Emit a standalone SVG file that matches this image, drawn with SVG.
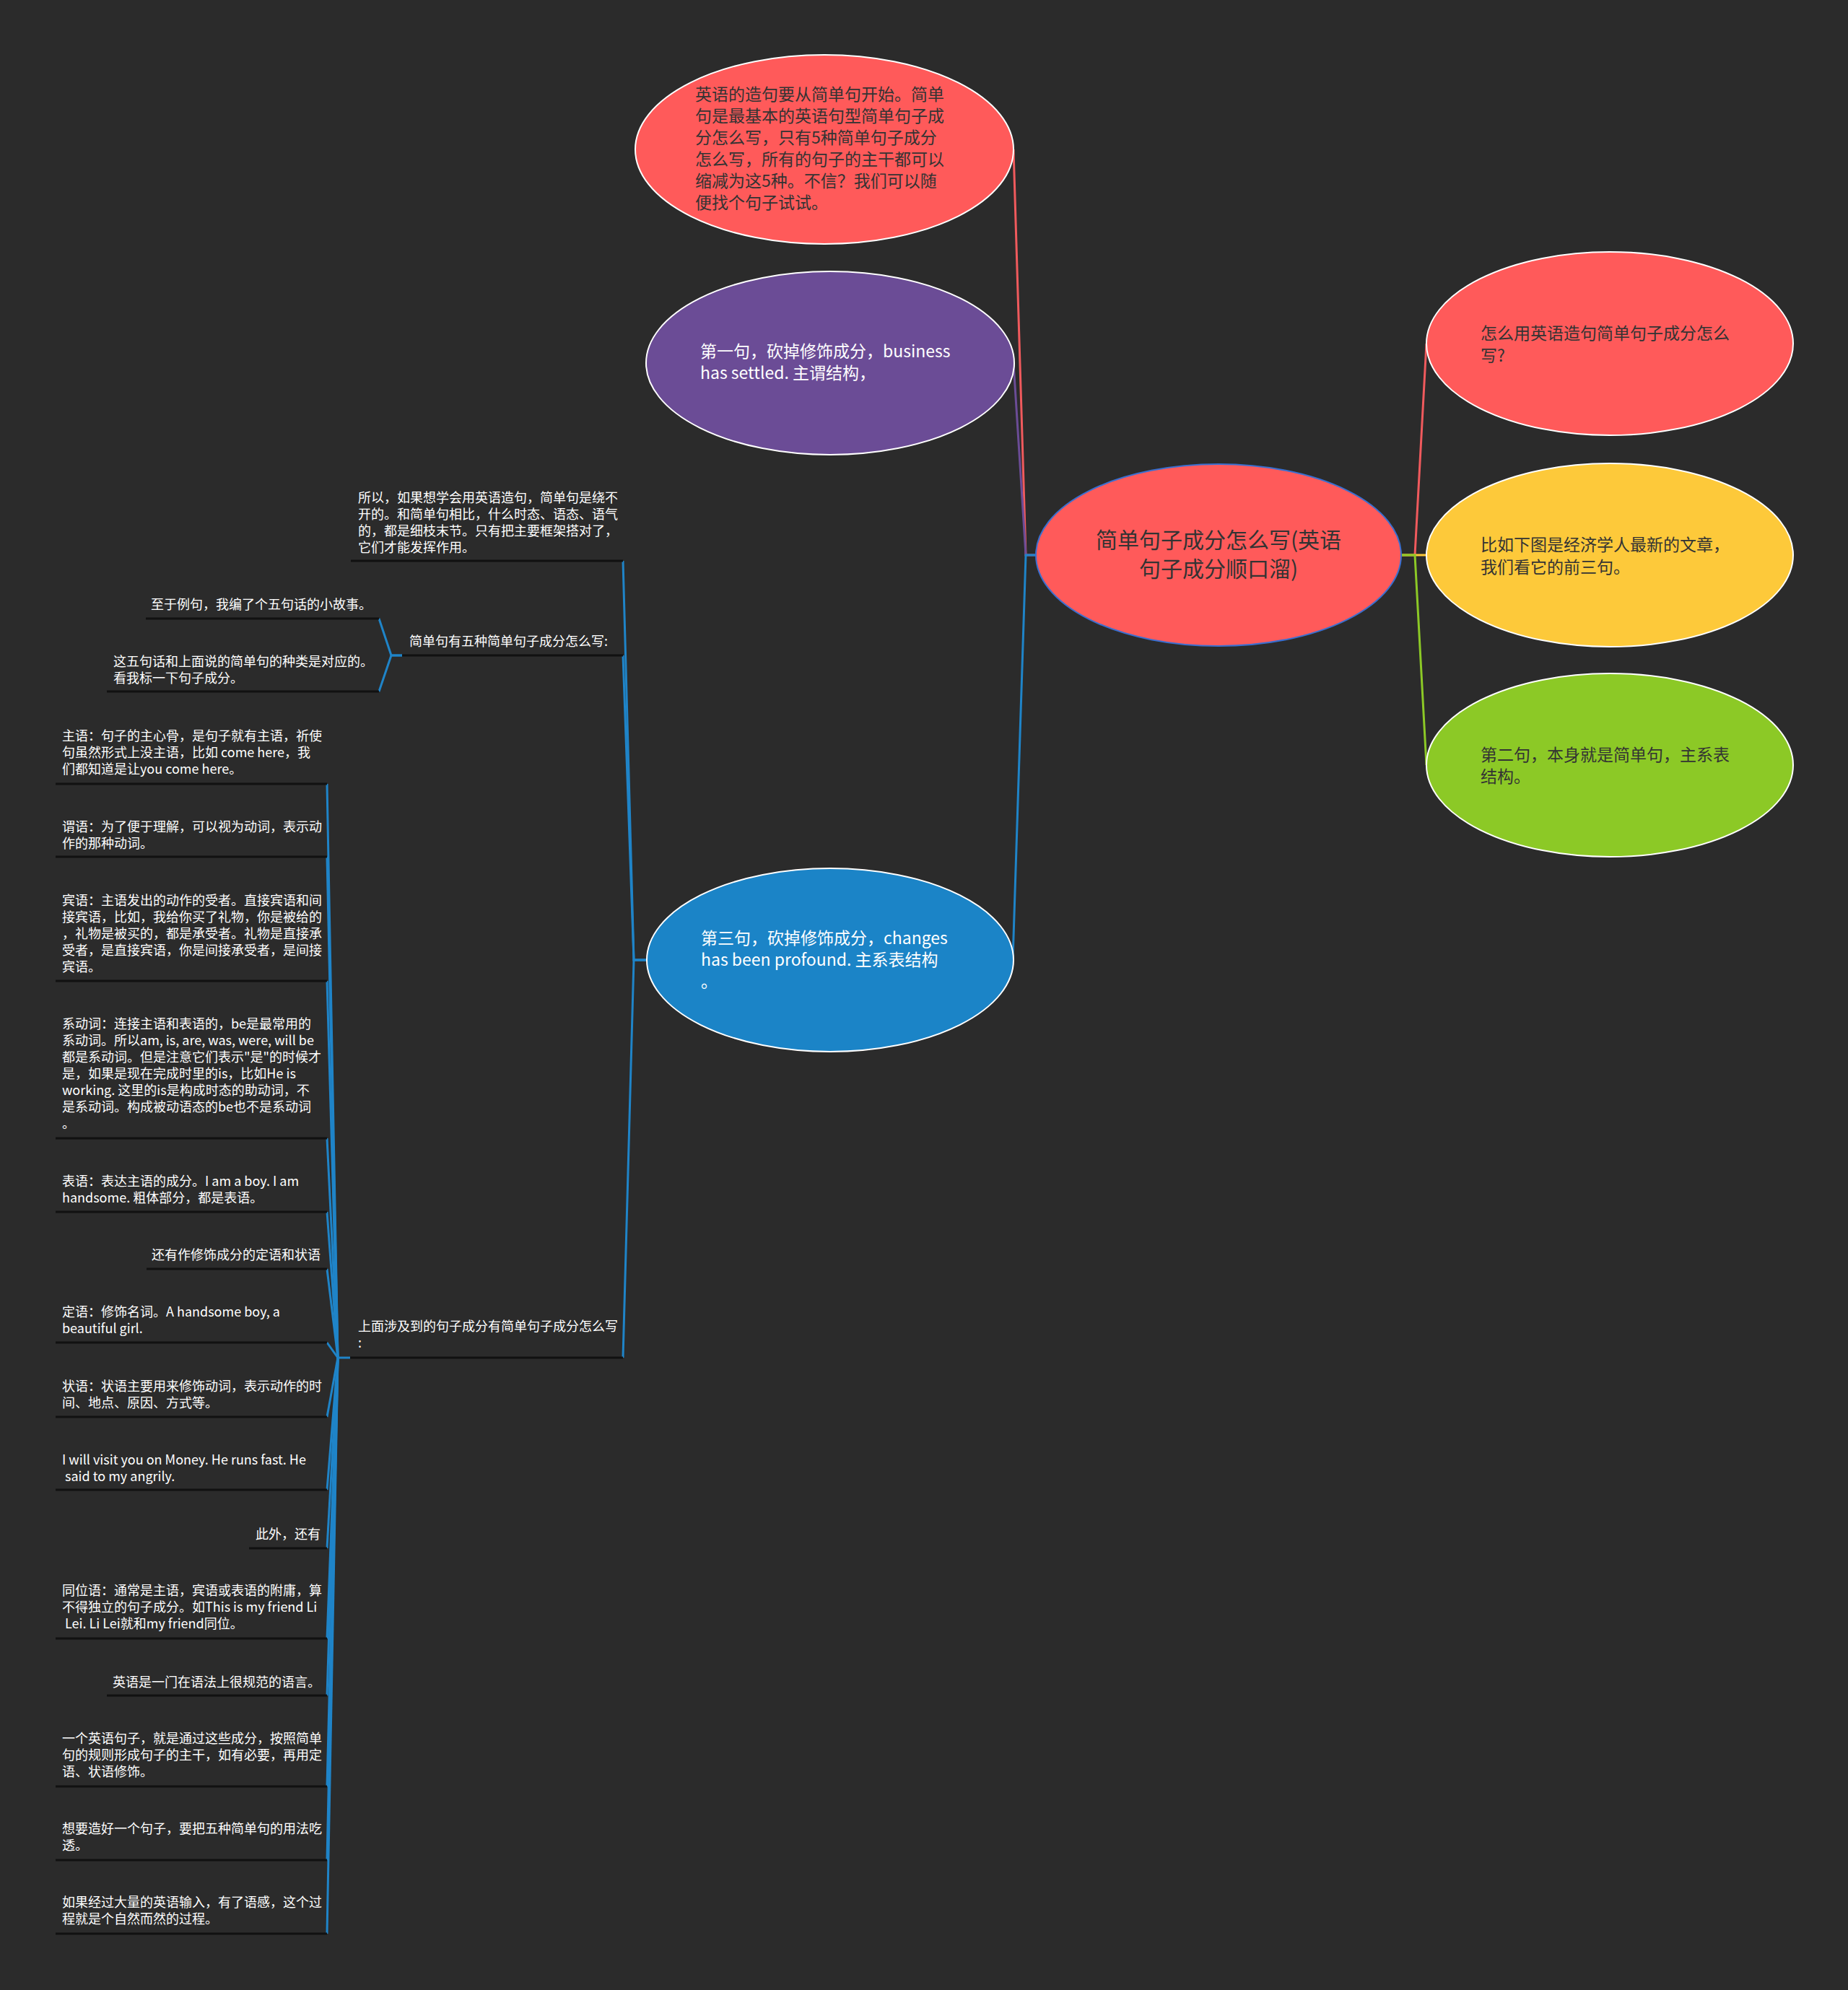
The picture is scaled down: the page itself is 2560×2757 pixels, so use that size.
<svg xmlns="http://www.w3.org/2000/svg" width="2560" height="2757" viewBox="0 0 2560 2757">
<style>
.bg{fill:#2b2b2b}
.t{font-family:"Noto Sans CJK SC","Microsoft YaHei",sans-serif}
.dk{fill:#333333}
.wt{fill:#ffffff}
.s18{font-size:18px}
.s23{font-size:23px}
.s30{font-size:30px}
.ul{stroke:#111111;stroke-width:3;fill:none}
.cb{stroke:#1f84c8;stroke-width:3;fill:none}
.node{stroke:#ffffff;stroke-width:2}
</style>
<rect class="bg" x="0" y="0" width="2560" height="2757"/>

<g id="connectors">
  <path d="M1435,769 L1421,769 L1404,207" stroke="#f05a5d" stroke-width="3" fill="none"/>
  <path d="M1435,769 L1421,769 L1404,503" stroke="#6b4c96" stroke-width="3" fill="none"/>
  <path d="M1435,769 L1421,769 L1403,1330" class="cb"/>
  <path d="M1941,769 L1960,769 L1976,476" stroke="#f05a5d" stroke-width="3" fill="none"/>
  <path d="M1941,769 L1975,769" stroke="#fdc93a" stroke-width="3" fill="none"/>
  <path d="M1941,769 L1960,769 L1976,1060" stroke="#8cc926" stroke-width="3" fill="none"/>
  <path d="M896,1330 L878,1330 L863,777" class="cb"/>
  <path d="M896,1330 L878,1330 L863,908" class="cb"/>
  <path d="M896,1330 L878,1330 L863,1881" class="cb"/>
  <path d="M557,908 L542,908 L525,857" class="cb"/>
  <path d="M557,908 L542,908 L525,958" class="cb"/>
  <path d="M485,1881 L468,1881 L453,1086" class="cb"/>
  <path d="M468,1881 L453,1187" class="cb"/>
  <path d="M468,1881 L453,1359" class="cb"/>
  <path d="M468,1881 L453,1577" class="cb"/>
  <path d="M468,1881 L453,1679" class="cb"/>
  <path d="M468,1881 L453,1758" class="cb"/>
  <path d="M468,1881 L453,1860" class="cb"/>
  <path d="M468,1881 L453,1963" class="cb"/>
  <path d="M468,1881 L453,2064" class="cb"/>
  <path d="M468,1881 L453,2145" class="cb"/>
  <path d="M468,1881 L453,2270" class="cb"/>
  <path d="M468,1881 L453,2349" class="cb"/>
  <path d="M468,1881 L453,2475" class="cb"/>
  <path d="M468,1881 L453,2577" class="cb"/>
  <path d="M468,1881 L453,2679" class="cb"/>
</g>

<g id="center">
  <ellipse cx="1688" cy="769" rx="253" ry="126" fill="#ff5a5a" stroke="#3a6fd0" stroke-width="2"/>
  <text class="t s30 dk" text-anchor="middle"><tspan x="1688" y="759">简单句子成分怎么写(英语</tspan><tspan x="1688" y="799">句子成分顺口溜)</tspan></text>
</g>

<g id="n1">
  <ellipse class="node" cx="1142" cy="207" rx="262" ry="131" fill="#ff5a5a"/>
  <text class="t s23 dk"><tspan x="963" y="139">英语的造句要从简单句开始。简单</tspan><tspan x="963" y="169">句是最基本的英语句型简单句子成</tspan><tspan x="963" y="199">分怎么写，只有5种简单句子成分</tspan><tspan x="963" y="229">怎么写，所有的句子的主干都可以</tspan><tspan x="963" y="259">缩减为这5种。不信？我们可以随</tspan><tspan x="963" y="289">便找个句子试试。</tspan></text>
</g>

<g id="n2">
  <ellipse class="node" cx="1150" cy="503" rx="255" ry="127" fill="#6b4c96"/>
  <text class="t s23 wt"><tspan x="970" y="495">第一句，砍掉修饰成分，business</tspan><tspan x="970" y="525">has settled. 主谓结构，</tspan></text>
</g>

<g id="n3">
  <ellipse class="node" cx="1150" cy="1330" rx="254" ry="127" fill="#1b84c7"/>
  <text class="t s23 wt"><tspan x="971" y="1308">第三句，砍掉修饰成分，changes</tspan><tspan x="971" y="1338">has been profound. 主系表结构</tspan><tspan x="971" y="1368">。</tspan></text>
</g>

<g id="r1">
  <ellipse class="node" cx="2230" cy="476" rx="254" ry="127" fill="#ff5a5a"/>
  <text class="t s23 dk"><tspan x="2051" y="470">怎么用英语造句简单句子成分怎么</tspan><tspan x="2051" y="501">写?</tspan></text>
</g>

<g id="r2">
  <ellipse class="node" cx="2230" cy="769" rx="254" ry="127" fill="#fdc93a"/>
  <text class="t s23 dk"><tspan x="2051" y="763">比如下图是经济学人最新的文章，</tspan><tspan x="2051" y="794">我们看它的前三句。</tspan></text>
</g>

<g id="r3">
  <ellipse class="node" cx="2230" cy="1060" rx="254" ry="127" fill="#8cc926"/>
  <text class="t s23 dk"><tspan x="2051" y="1054">第二句，本身就是简单句，主系表</tspan><tspan x="2051" y="1084">结构。</tspan></text>
</g>

<g id="l-suoyi">
  <text class="t s18 wt"><tspan x="496" y="696">所以，如果想学会用英语造句，简单句是绕不</tspan><tspan x="496" y="719">开的。和简单句相比，什么时态、语态、语气</tspan><tspan x="496" y="742">的，都是细枝末节。只有把主要框架搭对了，</tspan><tspan x="496" y="765">它们才能发挥作用。</tspan></text>
  <line class="ul" x1="486" y1="777" x2="863" y2="777"/>
</g>

<g id="l-five">
  <text class="t s18 wt" x="567" y="895">简单句有五种简单句子成分怎么写:</text>
  <line class="ul" x1="557" y1="908" x2="863" y2="908"/>
</g>

<g id="l-zhiyu">
  <text class="t s18 wt" x="515" y="844" text-anchor="end">至于例句，我编了个五句话的小故事。</text>
  <line class="ul" x1="202" y1="857" x2="525" y2="857"/>
</g>

<g id="l-zhewu">
  <text class="t s18 wt"><tspan x="157" y="923">这五句话和上面说的简单句的种类是对应的。</tspan><tspan x="157" y="946">看我标一下句子成分。</tspan></text>
  <line class="ul" x1="148" y1="958" x2="525" y2="958"/>
</g>

<g id="l-shangmian">
  <text class="t s18 wt"><tspan x="496" y="1844">上面涉及到的句子成分有简单句子成分怎么写</tspan><tspan x="496" y="1867">:</tspan></text>
  <line class="ul" x1="485" y1="1881" x2="863" y2="1881"/>
</g>

<g id="c-zhuyu">
  <text class="t s18 wt"><tspan x="86" y="1026">主语：句子的主心骨，是句子就有主语，祈使</tspan><tspan x="86" y="1049">句虽然形式上没主语，比如 come here，我</tspan><tspan x="86" y="1072">们都知道是让you come here。</tspan></text>
  <line class="ul" x1="77" y1="1086" x2="453" y2="1086"/>
</g>

<g id="c-weiyu">
  <text class="t s18 wt"><tspan x="86" y="1152">谓语：为了便于理解，可以视为动词，表示动</tspan><tspan x="86" y="1175">作的那种动词。</tspan></text>
  <line class="ul" x1="77" y1="1187" x2="453" y2="1187"/>
</g>

<g id="c-binyu">
  <text class="t s18 wt"><tspan x="86" y="1254">宾语：主语发出的动作的受者。直接宾语和间</tspan><tspan x="86" y="1277">接宾语，比如，我给你买了礼物，你是被给的</tspan><tspan x="86" y="1300">，礼物是被买的，都是承受者。礼物是直接承</tspan><tspan x="86" y="1323">受者，是直接宾语，你是间接承受者，是间接</tspan><tspan x="86" y="1346">宾语。</tspan></text>
  <line class="ul" x1="77" y1="1359" x2="453" y2="1359"/>
</g>

<g id="c-xidongci">
  <text class="t s18 wt"><tspan x="86" y="1425">系动词：连接主语和表语的，be是最常用的</tspan><tspan x="86" y="1448">系动词。所以am, is, are, was, were, will be</tspan><tspan x="86" y="1471">都是系动词。但是注意它们表示"是"的时候才</tspan><tspan x="86" y="1494">是，如果是现在完成时里的is，比如He is</tspan><tspan x="86" y="1517">working. 这里的is是构成时态的助动词，不</tspan><tspan x="86" y="1540">是系动词。构成被动语态的be也不是系动词</tspan><tspan x="86" y="1563">。</tspan></text>
  <line class="ul" x1="77" y1="1577" x2="453" y2="1577"/>
</g>

<g id="c-biaoyu">
  <text class="t s18 wt"><tspan x="86" y="1643">表语：表达主语的成分。I am a boy. I am</tspan><tspan x="86" y="1666">handsome. 粗体部分，都是表语。</tspan></text>
  <line class="ul" x1="77" y1="1679" x2="453" y2="1679"/>
</g>

<g id="c-haiyou">
  <text class="t s18 wt" x="444" y="1745" text-anchor="end">还有作修饰成分的定语和状语</text>
  <line class="ul" x1="203" y1="1758" x2="453" y2="1758"/>
</g>

<g id="c-dingyu">
  <text class="t s18 wt"><tspan x="86" y="1824">定语：修饰名词。A handsome boy, a</tspan><tspan x="86" y="1847">beautiful girl.</tspan></text>
  <line class="ul" x1="77" y1="1860" x2="453" y2="1860"/>
</g>

<g id="c-zhuangyu">
  <text class="t s18 wt"><tspan x="86" y="1927">状语：状语主要用来修饰动词，表示动作的时</tspan><tspan x="86" y="1950">间、地点、原因、方式等。</tspan></text>
  <line class="ul" x1="77" y1="1963" x2="453" y2="1963"/>
</g>

<g id="c-visit">
  <text class="t s18 wt" xml:space="preserve"><tspan x="86" y="2029">I will visit you on Money. He runs fast. He</tspan><tspan x="86" y="2052"> said to my angrily.</tspan></text>
  <line class="ul" x1="77" y1="2064" x2="453" y2="2064"/>
</g>

<g id="c-ciwai">
  <text class="t s18 wt" x="444" y="2132" text-anchor="end">此外，还有</text>
  <line class="ul" x1="345" y1="2145" x2="453" y2="2145"/>
</g>

<g id="c-tongwei">
  <text class="t s18 wt" xml:space="preserve"><tspan x="86" y="2210">同位语：通常是主语，宾语或表语的附庸，算</tspan><tspan x="86" y="2233">不得独立的句子成分。如This is my friend Li</tspan><tspan x="86" y="2256"> Lei. Li Lei就和my friend同位。</tspan></text>
  <line class="ul" x1="77" y1="2270" x2="453" y2="2270"/>
</g>

<g id="c-guifan">
  <text class="t s18 wt" x="444" y="2337" text-anchor="end">英语是一门在语法上很规范的语言。</text>
  <line class="ul" x1="148" y1="2349" x2="453" y2="2349"/>
</g>

<g id="c-yige">
  <text class="t s18 wt"><tspan x="86" y="2415">一个英语句子，就是通过这些成分，按照简单</tspan><tspan x="86" y="2438">句的规则形成句子的主干，如有必要，再用定</tspan><tspan x="86" y="2461">语、状语修饰。</tspan></text>
  <line class="ul" x1="77" y1="2475" x2="453" y2="2475"/>
</g>

<g id="c-xiangyao">
  <text class="t s18 wt"><tspan x="86" y="2540">想要造好一个句子，要把五种简单句的用法吃</tspan><tspan x="86" y="2563">透。</tspan></text>
  <line class="ul" x1="77" y1="2577" x2="453" y2="2577"/>
</g>

<g id="c-ruguo">
  <text class="t s18 wt"><tspan x="86" y="2642">如果经过大量的英语输入，有了语感，这个过</tspan><tspan x="86" y="2665">程就是个自然而然的过程。</tspan></text>
  <line class="ul" x1="77" y1="2679" x2="453" y2="2679"/>
</g>
</svg>
